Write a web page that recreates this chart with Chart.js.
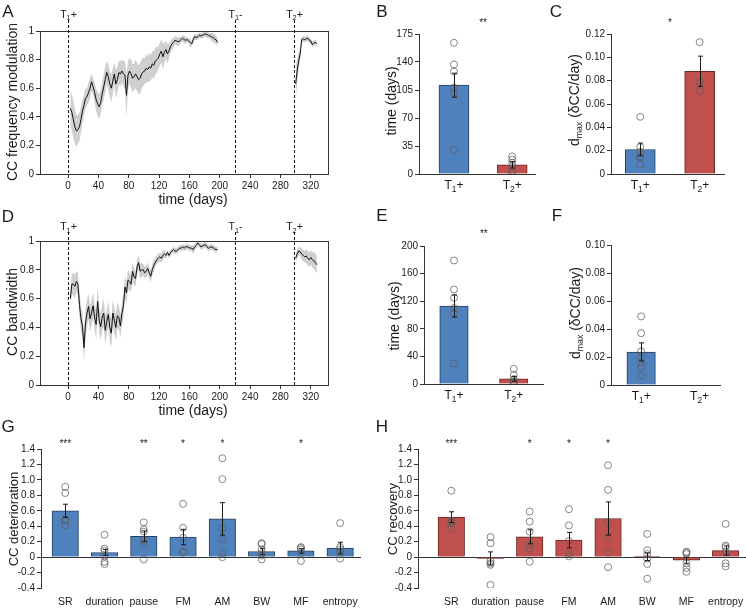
<!DOCTYPE html>
<html>
<head>
<meta charset="utf-8">
<script src="https://cdn.jsdelivr.net/npm/chart.js@4.4.1/dist/chart.umd.min.js"></script>
<style>
  body { margin: 0; width: 746px; height: 611px; overflow: hidden; background: #fff; position: relative;
         font-family: 'Liberation Sans', Arial, sans-serif; color: #1a1a1a; }
  canvas { position: absolute; }
  .lbl { position: absolute; white-space: nowrap; font-size: 14px; line-height: 1; transform: translate(-50%, -50%); }
  .rot { transform: translate(-50%, -50%) rotate(-90deg); }
  .small { font-size: 13px; }
  .panel { position: absolute; font-size: 17px; line-height: 1; transform: translate(-50%, -50%); }
  sub { font-size: 0.62em; vertical-align: -0.3em; line-height: 0; }
</style>
</head>
<body>
<canvas id="chartA"></canvas>
<canvas id="chartD"></canvas>
<canvas id="chartB"></canvas>
<canvas id="chartC"></canvas>
<canvas id="chartE"></canvas>
<canvas id="chartF"></canvas>
<canvas id="chartG"></canvas>
<canvas id="chartH"></canvas>

<div class="panel" style="left:8px;top:11px">A</div>
<div class="panel" style="left:382px;top:11px">B</div>
<div class="panel" style="left:556px;top:11px">C</div>
<div class="panel" style="left:8px;top:216px">D</div>
<div class="panel" style="left:382px;top:215px">E</div>
<div class="panel" style="left:557px;top:215px">F</div>
<div class="panel" style="left:8px;top:426px">G</div>
<div class="panel" style="left:382px;top:426px">H</div>

<div class="lbl rot" style="left:12px;top:102px">CC frequency modulation</div>
<div class="lbl" style="left:193px;top:199px">time (days)</div>
<div class="lbl rot" style="left:12px;top:312px">CC bandwidth</div>
<div class="lbl" style="left:193px;top:410px">time (days)</div>
<div class="lbl rot" style="left:391px;top:101px">time (days)</div>
<div class="lbl rot" style="left:574px;top:100px">d<sub>max</sub> (δCC/day)</div>
<div class="lbl rot" style="left:394px;top:316px">time (days)</div>
<div class="lbl rot" style="left:575px;top:313px">d<sub>max</sub> (δCC/day)</div>
<div class="lbl rot small" style="left:13px;top:519px">CC deterioration</div>
<div class="lbl rot small" style="left:392px;top:519px">CC recovery</div>

<script>
// ---- data ----
const dayTicks = [0, 40, 80, 120, 160, 200, 240, 280, 320];
const unitTicks = [0, 0.2, 0.4, 0.6, 0.8, 1];
const eventDays = [0, 220, 298];
const eventLabels = [['T', '1', '+'], ['T', '1', '-'], ['T', '2', '+']];

// first training block, every 2nd day
const daysSeg1 = [3, 5, 7, 9, 11, 13, 15, 17, 19, 21,
  23, 25, 27, 29, 31, 33, 35, 37, 39, 41,
  43, 45, 47, 49, 51, 53, 55, 57, 59, 61,
  63, 65, 67, 69, 71, 73, 75, 77, 79, 81,
  83, 85, 87, 89, 91, 93, 95, 97, 99, 101,
  103, 105, 107, 109, 111, 113, 115, 117, 119, 121,
  123, 125, 127, 129, 131, 133, 135, 137, 139, 141,
  143, 145, 147, 149, 151, 153, 155, 157, 159, 161,
  163, 165, 167, 169, 171, 173, 175, 177, 179, 181,
  183, 185, 187, 189, 191, 193, 195, 197];
const daysSeg2 = [300, 302, 304, 306, 308, 310, 312, 314, 316, 318, 320, 322, 324, 326, 328];

// panel A: CC frequency modulation (mean, sem)
const meanA1 = [.46, .43, .38, .33, .30, .31, .33, .38, .44, .48,
  .53, .54, .57, .60, .645, .61, .57, .52, .49, .47,
  .50, .56, .61, .66, .71, .68, .63, .60, .65, .70,
  .63, .66, .71, .70, .72, .70, .69, .55, .69, .72,
  .70, .67, .68, .70, .68, .66, .67, .70, .715, .72,
  .74, .73, .75, .74, .77, .76, .79, .80, .81, .84,
  .86, .82, .85, .87, .84, .86, .89, .91, .92, .935,
  .93, .925, .93, .94, .95, .94, .935, .94, .93, .92,
  .91, .94, .96, .955, .96, .97, .965, .97, .975, .98,
  .975, .97, .965, .96, .955, .945, .94, .92];
const semA1 = [.12, .13, .13, .12, .11, .10, .10, .09, .08, .07,
  .07, .06, .07, .07, .06, .06, .07, .08, .08, .09,
  .08, .08, .09, .09, .08, .09, .09, .10, .09, .08,
  .10, .09, .08, .09, .08, .09, .10, .15, .10, .09,
  .10, .10, .09, .10, .10, .10, .11, .10, .10, .09,
  .10, .09, .10, .09, .09, .10, .09, .09, .08, .08,
  .08, .09, .07, .06, .07, .05, .04, .04, .03, .03,
  .03, .03, .03, .02, .02, .03, .02, .02, .02, .03,
  .02, .02, .02, .02, .02, .02, .02, .02, .02, .02,
  .02, .02, .02, .03, .03, .03, .03, .03];
const meanA2 = [.63, .72, .79, .84, .94, .945, .94, .945, .95, .935, .93, .905, .915, .92, .91];
const semA2 = [.12, .08, .06, .04, .02, .02, .02, .02, .02, .02, .02, .02, .02, .02, .02];

// panel D: CC bandwidth (mean, sem)
const meanD1 = [.60, .70, .70, .685, .72, .70, .56, .46, .41, .26,
  .43, .50, .545, .46, .50, .55, .47, .42, .58, .45,
  .405, .47, .50, .38, .44, .49, .40, .36, .50, .45,
  .40, .48, .47, .41, .50, .55, .68, .64, .73, .72,
  .70, .79, .75, .74, .82, .85, .79, .80, .80, .78,
  .79, .81, .78, .755, .80, .83, .85, .87, .88, .89,
  .88, .90, .91, .90, .92, .90, .92, .93, .94, .93,
  .93, .94, .95, .95, .96, .95, .96, .96, .955, .95,
  .95, .94, .96, .97, .987, .975, .96, .965, .97, .975,
  .96, .95, .955, .96, .955, .945, .94, .94];
const semD1 = [.06, .07, .08, .08, .07, .08, .09, .09, .09, .10,
  .10, .09, .09, .09, .09, .09, .09, .10, .10, .09,
  .09, .09, .10, .10, .09, .09, .10, .10, .09, .09,
  .09, .09, .08, .08, .08, .08, .08, .07, .07, .06,
  .06, .06, .06, .05, .05, .05, .05, .05, .04, .04,
  .04, .04, .04, .04, .04, .04, .03, .03, .03, .03,
  .03, .03, .03, .02, .02, .02, .02, .02, .02, .02,
  .02, .02, .02, .02, .02, .02, .02, .02, .02, .02,
  .02, .03, .02, .02, .02, .02, .02, .02, .02, .02,
  .02, .02, .02, .02, .02, .02, .02, .02];
const meanD2 = [.88, .91, .93, .925, .91, .90, .89, .895, .88, .87, .885, .87, .865, .85, .835];
const semD2 = [.03, .03, .03, .03, .04, .04, .04, .05, .05, .05, .05, .05, .06, .06, .06];

// panels B, C, E, F: T1+ vs T2+
const groupX = [1, 2];
const groupLabels = [['T', '1', '+'], ['T', '2', '+']];
const timeTicksB = [0, 35, 70, 105, 140, 175];
const meanB = [111, 11.5];
const semB = [15, 4];
const ptsB = [[164, 137, 128, 108, 101, 30], [22, 18, 14, 9, 4, 1]];
const dmaxTicksC = [0, 0.02, 0.04, 0.06, 0.08, 0.10, 0.12];
const meanC = [0.021, 0.088];
const semC = [0.0055, 0.013];
const ptsC = [[0.049, 0.023, 0.019, 0.015, 0.014, 0.008], [0.113, 0.079, 0.071]];
const timeTicksE = [0, 40, 80, 120, 160, 200];
const meanE = [113, 7.5];
const semE = [16, 3.5];
const ptsE = [[179, 137, 125, 110, 102, 30], [22, 13, 7, 4, 2, 1]];
const dmaxTicksF = [0, 0.02, 0.04, 0.06, 0.08, 0.10];
const meanF = [0.0236, null];
const semF = [0.0065, null];
const ptsF = [[0.049, 0.037, 0.024, 0.020, 0.016, 0.013, 0.007], []];

// panels G, H: song features
const features = ['SR', 'duration', 'pause', 'FM', 'AM', 'BW', 'MF', 'entropy'];
const featX = [0, 1, 2, 3, 4, 5, 6, 7];
const changeTicks = [-0.4, -0.2, 0, 0.2, 0.4, 0.6, 0.8, 1.0, 1.2, 1.4];
const meanG = [0.60, 0.06, 0.27, 0.26, 0.495, 0.073, 0.08, 0.117];
const semG = [0.085, 0.04, 0.07, 0.10, 0.21, 0.04, 0.03, 0.075];
const ptsG = [[0.91, 0.83, 0.49, 0.47, 0.41], [0.29, 0.11, 0.08, 0.01, -0.06, -0.09],
  [0.45, 0.36, 0.33, 0.22, 0.18, -0.03], [0.69, 0.38, 0.25, 0.07, 0.06],
  [1.28, 1.01, 0.37, 0.23, 0.05, 0.0], [0.18, 0.17, 0.10, 0.05, 0.02, -0.03],
  [0.13, 0.12, 0.10, 0.05, -0.05], [0.44, 0.13, 0.10, 0.06, -0.02]];
const starsG = ['***', '', '**', '*', '*', '', '*', ''];
const meanH = [0.517, -0.017, 0.263, 0.22, 0.50, 0.005, -0.04, 0.085];
const semH = [0.07, 0.085, 0.09, 0.10, 0.215, 0.05, 0.04, 0.06];
const ptsH = [[0.86, 0.47, 0.45, 0.44, 0.37], [0.26, 0.18, -0.05, -0.08, -0.10, -0.36],
  [0.59, 0.46, 0.33, 0.16, 0.11, -0.06], [0.62, 0.41, 0.21, 0.05, 0.01],
  [1.19, 0.87, 0.45, 0.26, 0.06, -0.13], [0.30, 0.09, 0.04, -0.02, -0.09, -0.28],
  [0.07, 0.06, 0.04, -0.08, -0.14, -0.19], [0.43, 0.15, 0.13, 0.07, -0.08, -0.12]];
const starsH = ['***', '', '*', '*', '*', '', '', ''];

// ---- styling ----
const FONT = "'Liberation Sans', Arial, sans-serif";
const AXIS = '#333';
const INK = '#1a1a1a';
const BAND = '#cfcfcf';
const BLUE = '#4f81bd', BLUE_EDGE = '#24405f';
const RED = '#c0504d', RED_EDGE = '#6b2523';
const DOT = 'rgba(95,95,95,0.75)';

Chart.defaults.font.family = FONT;
Chart.defaults.font.size = 10;
Chart.defaults.color = INK;
Chart.defaults.animation = false;
Chart.defaults.responsive = false;
Chart.defaults.plugins.legend.display = false;
Chart.defaults.plugins.tooltip.enabled = false;

const PAD = { left: 6, top: 26, right: 22, bottom: 4 };
const Y_W = 44, X_H = 30;

// size and place a canvas so that its chart area lands on `area`
function mountCanvas(id, area) {
  const c = document.getElementById(id);
  c.width = area.r - area.l + PAD.left + Y_W + PAD.right;
  c.height = area.b - area.t + PAD.top + X_H + PAD.bottom;
  c.style.left = (area.l - PAD.left - Y_W) + 'px';
  c.style.top = (area.t - PAD.top) + 'px';
  return c;
}

// "T" + subscript digit + tail, centred on cx
function drawRich(ctx, parts, cx, baseY, size) {
  const big = size + 'px ' + FONT, small = (size * 0.7) + 'px ' + FONT;
  ctx.font = big;
  const w1 = ctx.measureText(parts[0]).width, w3 = ctx.measureText(parts[2]).width;
  ctx.font = small;
  const w2 = ctx.measureText(parts[1]).width;
  let x = cx - (w1 + w2 + w3) / 2;
  ctx.textAlign = 'left';
  ctx.textBaseline = 'alphabetic';
  ctx.font = big; ctx.fillText(parts[0], x, baseY); x += w1;
  ctx.font = small; ctx.fillText(parts[1], x, baseY + size * 0.25); x += w2;
  ctx.font = big; ctx.fillText(parts[2], x, baseY);
}

const framePlugin = {
  id: 'frame',
  afterDatasetsDraw(chart) {
    const { ctx, chartArea: a } = chart;
    ctx.save();
    ctx.strokeStyle = AXIS;
    ctx.lineWidth = 1;
    ctx.strokeRect(Math.round(a.left) + 0.5, Math.round(a.top) + 0.5,
      Math.round(a.right - a.left) - 1, Math.round(a.bottom - a.top));
    ctx.restore();
  }
};

const eventPlugin = {
  id: 'eventMarks',
  afterDatasetsDraw(chart, args, o) {
    const { ctx, chartArea: a, scales: { x } } = chart;
    ctx.save();
    ctx.fillStyle = INK;
    eventDays.forEach((d, i) => {
      const px = Math.round(x.getPixelForValue(d)) + 0.5;
      ctx.strokeStyle = '#111';
      ctx.lineWidth = 1;
      ctx.setLineDash([3, 2]);
      ctx.beginPath();
      ctx.moveTo(px, a.top - o.lineAbove);
      ctx.lineTo(px, a.bottom);
      ctx.stroke();
      ctx.setLineDash([]);
      drawRich(ctx, eventLabels[i], px, a.top - o.labelAbove, 10.5);
    });
    ctx.restore();
  }
};

const barExtras = {
  id: 'barExtras',
  afterDatasetsDraw(chart, args, o) {
    const { ctx, chartArea: a, scales: { x, y } } = chart;
    ctx.save();
    ctx.strokeStyle = INK;
    ctx.lineWidth = 1;
    o.xs.forEach((xv, i) => {
      if (o.means[i] == null) return;
      const px = Math.round(x.getPixelForValue(xv)) + 0.5;
      const y1 = y.getPixelForValue(o.means[i] + o.sems[i]);
      const y2 = y.getPixelForValue(o.means[i] - o.sems[i]);
      ctx.beginPath();
      ctx.moveTo(px, y1); ctx.lineTo(px, y2);
      ctx.moveTo(px - 2.5, y1); ctx.lineTo(px + 2.5, y1);
      ctx.moveTo(px - 2.5, y2); ctx.lineTo(px + 2.5, y2);
      ctx.stroke();
    });
    ctx.fillStyle = INK;
    ctx.font = '10px ' + FONT;
    ctx.textAlign = 'center';
    ctx.textBaseline = 'alphabetic';
    o.stars.forEach(s => {
      if (s.text) ctx.fillText(s.text, x.getPixelForValue(s.x), a.top - o.starAbove);
    });
    if (o.labels) {
      o.labels.forEach((parts, i) => drawRich(ctx, parts, x.getPixelForValue(o.xs[i]), a.bottom + 14.5, 12));
    }
    ctx.restore();
  }
};

function yAxis(ticks, min, max, fmt, zeroLine) {
  return {
    min: min, max: max,
    afterBuildTicks: s => { s.ticks = ticks.map(v => ({ value: v })); },
    afterFit: s => { s.width = Y_W; },
    border: { display: true, color: AXIS },
    grid: {
      drawOnChartArea: !!zeroLine,
      color: c => (zeroLine && c.tick && c.tick.value === 0) ? AXIS : 'rgba(0,0,0,0)',
      tickColor: AXIS, tickLength: 4
    },
    ticks: { padding: 2, autoSkip: false, callback: fmt }
  };
}

function lineChart(id, area, segments, evOpts) {
  const datasets = [];
  segments.forEach(([days, mean, sem]) => {
    datasets.push({ data: days.map((d, i) => ({ x: d, y: mean[i] + sem[i] })), fill: '+1',
      backgroundColor: BAND, borderColor: 'rgba(0,0,0,0)', borderWidth: 0, pointRadius: 0 });
    datasets.push({ data: days.map((d, i) => ({ x: d, y: mean[i] - sem[i] })), fill: false,
      borderColor: 'rgba(0,0,0,0)', borderWidth: 0, pointRadius: 0 });
    datasets.push({ data: days.map((d, i) => ({ x: d, y: mean[i] })), fill: false,
      borderColor: '#111', borderWidth: 1, pointRadius: 0 });
  });
  return new Chart(mountCanvas(id, area), {
    type: 'line',
    data: { datasets },
    options: {
      layout: { padding: PAD },
      plugins: { filler: { drawTime: 'beforeDatasetsDraw' }, eventMarks: evOpts },
      scales: {
        x: {
          type: 'linear', min: -37, max: 344,
          afterBuildTicks: s => { s.ticks = dayTicks.map(v => ({ value: v })); },
          afterFit: s => { s.height = X_H; },
          border: { display: false },
          grid: { drawOnChartArea: false, tickColor: AXIS, tickLength: 4 },
          ticks: { padding: 2, maxRotation: 0, autoSkip: false, callback: v => String(v) }
        },
        y: Object.assign(yAxis(unitTicks, 0, 1, v => String(v), false), { border: { display: false } })
      }
    },
    plugins: [framePlugin, eventPlugin]
  });
}

function barChart(id, area, c) {
  const bars = [], fills = [], edges = [];
  c.xs.forEach((xv, i) => {
    if (c.means[i] == null) return;
    bars.push({ x: xv, y: c.means[i] });
    fills.push(c.fill[i]);
    edges.push(c.edge[i]);
  });
  const dots = [];
  c.pts.forEach((list, i) => list.forEach(v => dots.push({ x: c.xs[i], y: v })));
  const xScale = {
    type: 'linear', min: c.xMin, max: c.xMax, offset: false,
    afterFit: s => { s.height = X_H; },
    border: { display: c.xBorder, color: AXIS },
    grid: { display: false, drawTicks: false }
  };
  if (c.catLabels) {
    xScale.afterBuildTicks = s => { s.ticks = c.xs.map(v => ({ value: v })); };
    xScale.ticks = { padding: 8, maxRotation: 0, autoSkip: false, font: { size: 10.5 }, callback: v => c.catLabels[v] };
  } else {
    xScale.ticks = { display: false };
  }
  return new Chart(mountCanvas(id, area), {
    type: 'bar',
    data: {
      datasets: [
        { type: 'scatter', data: dots, order: 1, pointStyle: 'circle', pointRadius: 3.5,
          borderColor: DOT, backgroundColor: 'rgba(0,0,0,0)', borderWidth: 1 },
        { type: 'bar', data: bars, order: 2, backgroundColor: fills, borderColor: edges,
          borderWidth: 1, barThickness: c.thickness }
      ]
    },
    options: {
      layout: { padding: PAD },
      plugins: {
        barExtras: { xs: c.xs, means: c.means, sems: c.sems, stars: c.stars,
          starAbove: c.starAbove, labels: c.groupLabels }
      },
      scales: {
        x: xScale,
        y: yAxis(c.yTicks, c.yTicks[0], c.yTicks[c.yTicks.length - 1], c.fmt, c.zeroLine)
      }
    },
    plugins: [barExtras]
  });
}

const plainFmt = v => String(v);
const twoDp = v => (v === 0 ? '0' : v.toFixed(2));
const oneDp = v => (v === 0 ? '0' : v.toFixed(1));

lineChart('chartA', { l: 40, t: 31, r: 329, b: 174 },
  [[daysSeg1, meanA1, semA1], [daysSeg2, meanA2, semA2]], { lineAbove: 11, labelAbove: 13.5 });
lineChart('chartD', { l: 40, t: 241, r: 329, b: 385 },
  [[daysSeg1, meanD1, semD1], [daysSeg2, meanD2, semD2]], { lineAbove: 9, labelAbove: 11 });

barChart('chartB', { l: 419, t: 34, r: 535, b: 174 }, {
  xs: groupX, xMin: 0.399, xMax: 2.392, means: meanB, sems: semB, pts: ptsB,
  fill: [BLUE, RED], edge: [BLUE_EDGE, RED_EDGE], thickness: 30,
  yTicks: timeTicksB, fmt: plainFmt, stars: [{ x: 1.5, text: '**' }], starAbove: 7.6,
  groupLabels: groupLabels, xBorder: true
});
barChart('chartC', { l: 611, t: 34, r: 724, b: 174 }, {
  xs: groupX, xMin: 0.507, xMax: 2.41, means: meanC, sems: semC, pts: ptsC,
  fill: [BLUE, RED], edge: [BLUE_EDGE, RED_EDGE], thickness: 30,
  yTicks: dmaxTicksC, fmt: twoDp, stars: [{ x: 1.5, text: '*' }], starAbove: 8.3,
  groupLabels: groupLabels, xBorder: true
});
barChart('chartE', { l: 424, t: 246, r: 543, b: 384 }, {
  xs: groupX, xMin: 0.498, xMax: 2.49, means: meanE, sems: semE, pts: ptsE,
  fill: [BLUE, RED], edge: [BLUE_EDGE, RED_EDGE], thickness: 28.5,
  yTicks: timeTicksE, fmt: plainFmt, stars: [{ x: 1.5, text: '**' }], starAbove: 8.6,
  groupLabels: groupLabels, xBorder: true
});
barChart('chartF', { l: 611, t: 245, r: 720, b: 385 }, {
  xs: groupX, xMin: 0.484, xMax: 2.35, means: meanF, sems: semF, pts: ptsF,
  fill: [BLUE, RED], edge: [BLUE_EDGE, RED_EDGE], thickness: 28.5,
  yTicks: dmaxTicksF, fmt: twoDp, stars: [], starAbove: 8,
  groupLabels: groupLabels, xBorder: true
});
barChart('chartG', { l: 41, t: 449, r: 361, b: 588 }, {
  xs: featX, xMin: -0.617, xMax: 7.53, means: meanG, sems: semG, pts: ptsG,
  fill: featX.map(() => BLUE), edge: featX.map(() => BLUE_EDGE), thickness: 26.5,
  yTicks: changeTicks, fmt: oneDp, zeroLine: true,
  stars: starsG.map((t, i) => ({ x: featX[i], text: t })), starAbove: 1.6,
  catLabels: features, xBorder: false
});
barChart('chartH', { l: 418, t: 449, r: 746, b: 588 }, {
  xs: featX, xMin: -0.85, xMax: 7.52, means: meanH, sems: semH, pts: ptsH,
  fill: featX.map(() => RED), edge: featX.map(() => RED_EDGE), thickness: 26.5,
  yTicks: changeTicks, fmt: oneDp, zeroLine: true,
  stars: starsH.map((t, i) => ({ x: featX[i], text: t })), starAbove: 1.6,
  catLabels: features, xBorder: false
});
</script>
</body>
</html>
